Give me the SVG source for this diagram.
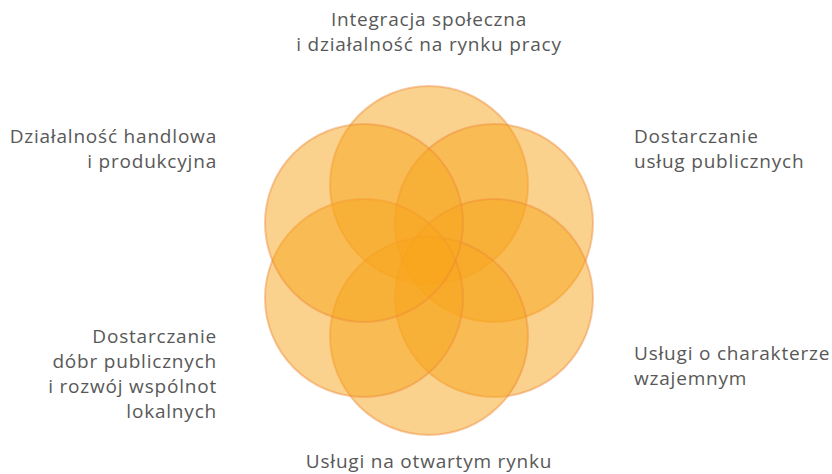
<svg xmlns="http://www.w3.org/2000/svg" width="832" height="474" viewBox="0 0 832 474">
<style>
.c{fill:#F8A61C;fill-opacity:0.5;stroke:#EE8A3A;stroke-opacity:0.45;stroke-width:2}
.t{font-family:"Open Sans","Noto Sans",sans-serif;font-size:19px;letter-spacing:0.8px;fill:#585858}
.m{text-anchor:middle}.e{text-anchor:end}
</style>
<rect width="832" height="474" fill="#ffffff"/>
<g id="circles">
<circle id="c1" class="c" cx="429" cy="185" r="99"/>
<circle id="c2" class="c" cx="494" cy="223" r="99"/>
<circle id="c3" class="c" cx="494" cy="298" r="99"/>
<circle id="c4" class="c" cx="429" cy="336" r="99"/>
<circle id="c5" class="c" cx="364" cy="298" r="99"/>
<circle id="c6" class="c" cx="364" cy="223" r="99"/>
</g>
<g id="labels">
<text class="t m" x="429" y="26">Integracja społeczna</text>
<text class="t m" x="429" y="51">i działalność na rynku pracy</text>
<text class="t e" x="217" y="143">Działalność handlowa</text>
<text class="t e" x="217" y="168">i produkcyjna</text>
<text class="t" x="634" y="143">Dostarczanie</text>
<text class="t" x="634" y="168">usług publicznych</text>
<text class="t e" x="217" y="343">Dostarczanie</text>
<text class="t e" x="217" y="368">dóbr publicznych</text>
<text class="t e" x="217" y="393">i rozwój wspólnot</text>
<text class="t e" x="217" y="418">lokalnych</text>
<text class="t" x="634" y="360">Usługi o charakterze</text>
<text class="t" x="634" y="385">wzajemnym</text>
<text class="t m" x="429" y="468">Usługi na otwartym rynku</text>
</g>
</svg>
